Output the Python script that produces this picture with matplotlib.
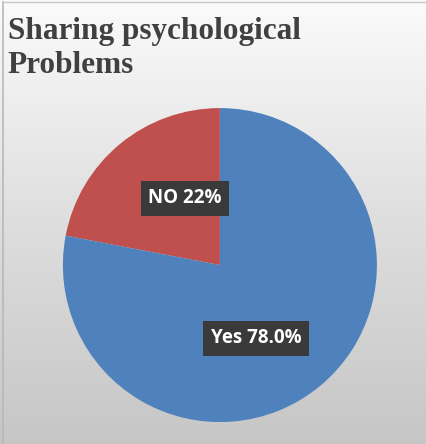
import matplotlib.pyplot as plt
import numpy as np

labels = ["NO", "Yes"]
shares = [22, 78]
label_text = ["NO 22%", "Yes 78.0%"]
colors = ["#c0504d", "#4f81bd"]

fig = plt.figure(figsize=(4.27, 4.44), dpi=100)

# background: soft vertical gradient from white to light gray
bg = fig.add_axes([0, 0, 1, 1])
grad = np.linspace(0, 1, 256).reshape(-1, 1)
bg.imshow(grad, aspect="auto", cmap=plt.matplotlib.colors.LinearSegmentedColormap.from_list(
    "bg", ["#c6c6c6", "#dedede", "#fbfbfb"]), extent=[0, 1, 0, 1], origin="lower")
bg.plot([0.008, 0.008], [0, 0.995], color="#b8b8b8", lw=1.2)
bg.plot([0.008, 1], [0.995, 0.995], color="#c8c8c8", lw=1.0)
bg.set_xlim(0, 1)
bg.set_ylim(0, 1)
bg.axis("off")

fig.text(0.018, 0.912, "Sharing psychological", family="Liberation Serif",
         fontweight="bold", fontsize=22.5, color="#404040")
fig.text(0.018, 0.835, "Problems", family="Liberation Serif",
         fontweight="bold", fontsize=22.5, color="#404040")

ax = fig.add_axes([0.1473, 0.0494, 0.7354, 0.7072])
ax.pie(shares, colors=colors, startangle=90, counterclock=True,
       wedgeprops=dict(linewidth=0))
ax.set_xlim(-1, 1)
ax.set_ylim(-1, 1)
ax.set_aspect("equal")

label_pos = [(-0.223, 0.427), (0.229, -0.465)]
for (x, y), txt in zip(label_pos, label_text):
    ax.text(x, y, txt, ha="center", va="center", color="white",
            fontsize=13.5, fontweight="bold", family="Open Sans",
            bbox=dict(boxstyle="square,pad=0.4", fc="#3a3a3a", ec="none"))

fig.savefig("out.png", dpi=100)
